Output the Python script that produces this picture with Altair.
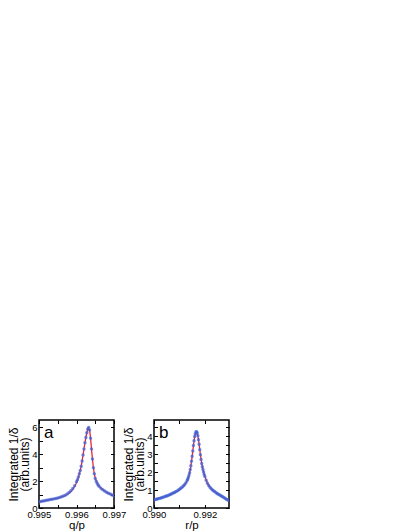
import altair as alt
import pandas as pd

# ---------------- data ----------------
# panel a : q/p  vs integrated 1/delta (blue data points)
qa = [0.99500, 0.99505, 0.99510, 0.99515, 0.99520, 0.99525, 0.99530, 0.99535,
      0.99540, 0.99545, 0.99550, 0.99555, 0.99560, 0.99565, 0.99570, 0.99575,
      0.99580, 0.99585, 0.99590, 0.99595, 0.996000, 0.996025, 0.996050, 0.996075,
      0.996100, 0.996125, 0.996150, 0.996175, 0.996200, 0.996225, 0.996250,
      0.996275, 0.996300, 0.996325, 0.996350, 0.996375, 0.996400, 0.996425,
      0.996450, 0.996475, 0.996500, 0.996525, 0.996550, 0.996575, 0.996600,
      0.99665, 0.99670, 0.99675, 0.99680, 0.99685, 0.99690, 0.99695, 0.99700]
va = [0.47, 0.49, 0.52, 0.54, 0.57, 0.60, 0.63, 0.65,
      0.68, 0.71, 0.74, 0.79, 0.84, 0.89, 0.95, 1.04,
      1.15, 1.28, 1.45, 1.65, 1.95, 2.10, 2.30, 2.55,
      2.80, 3.10, 3.50, 3.95, 4.40, 4.85, 5.25,
      5.60, 5.88, 6.00, 5.80, 5.20, 4.40, 3.65,
      3.00, 2.55, 2.20, 2.00, 1.85, 1.72, 1.62,
      1.47, 1.36, 1.26, 1.18, 1.10, 1.04, 0.97, 0.91]
# panel a fit (red line)
fa = [0.47, 0.49, 0.52, 0.54, 0.57, 0.60, 0.62, 0.65,
      0.68, 0.71, 0.74, 0.78, 0.82, 0.87, 0.93, 1.00,
      1.10, 1.22, 1.38, 1.60, 1.88, 2.06, 2.27, 2.52,
      2.80, 3.12, 3.50, 3.95, 4.40, 4.85, 5.25,
      5.60, 5.88, 5.98, 5.80, 5.20, 4.40, 3.65,
      3.00, 2.55, 2.22, 2.02, 1.87, 1.74, 1.63,
      1.48, 1.37, 1.27, 1.18, 1.10, 1.04, 0.97, 0.91]

# panel b : r/p vs integrated 1/delta
rb = [0.99000, 0.99005, 0.99010, 0.99015, 0.99020, 0.99025, 0.99030, 0.99035,
      0.99040, 0.99045, 0.99050, 0.99055, 0.99060, 0.99065, 0.99070, 0.99075,
      0.99080, 0.99085, 0.99090, 0.99095, 0.99100, 0.99105, 0.99110, 0.99115,
      0.99120, 0.99125, 0.99130, 0.991325, 0.99135, 0.991375, 0.99140, 0.991425,
      0.99145, 0.991475, 0.99150, 0.991525, 0.99155, 0.991575, 0.99160, 0.991625,
      0.99165, 0.991675, 0.99170, 0.991725, 0.99175, 0.991775, 0.99180, 0.991825,
      0.99185, 0.991875, 0.99190, 0.991925, 0.99195, 0.991975, 0.99200, 0.99205,
      0.99210, 0.99215, 0.99220, 0.99225, 0.99230, 0.99235, 0.99240, 0.99245,
      0.99250, 0.99255, 0.99260, 0.99265, 0.99270, 0.99275, 0.99280, 0.99285,
      0.99290, 0.99295]
vb = [0.45, 0.47, 0.49, 0.51, 0.53, 0.55, 0.57, 0.60,
      0.62, 0.65, 0.67, 0.70, 0.73, 0.76, 0.79, 0.83,
      0.86, 0.90, 0.94, 0.99, 1.04, 1.10, 1.16, 1.22,
      1.29, 1.39, 1.52, 1.60, 1.70, 1.82, 1.96, 2.14,
      2.35, 2.60, 2.88, 3.18, 3.48, 3.75, 3.98, 4.14,
      4.23, 4.25, 4.18, 4.02, 3.80, 3.55, 3.25, 2.96,
      2.70, 2.48, 2.30, 2.14, 2.00, 1.87, 1.75, 1.55,
      1.38, 1.25, 1.15, 1.07, 1.00, 0.95, 0.90, 0.84,
      0.79, 0.75, 0.71, 0.67, 0.63, 0.58, 0.53, 0.49,
      0.45, 0.42]
fb = [0.45, 0.47, 0.49, 0.51, 0.53, 0.55, 0.57, 0.59,
      0.62, 0.64, 0.67, 0.69, 0.72, 0.75, 0.78, 0.81,
      0.85, 0.88, 0.92, 0.96, 1.01, 1.06, 1.12, 1.19,
      1.27, 1.37, 1.50, 1.58, 1.68, 1.80, 1.94, 2.12,
      2.33, 2.58, 2.86, 3.16, 3.46, 3.74, 3.97, 4.13,
      4.22, 4.24, 4.18, 4.02, 3.80, 3.55, 3.27, 2.99,
      2.74, 2.52, 2.33, 2.16, 2.02, 1.89, 1.77, 1.57,
      1.40, 1.27, 1.17, 1.09, 1.02, 0.96, 0.90, 0.85,
      0.80, 0.75, 0.71, 0.67, 0.63, 0.58, 0.53, 0.49,
      0.45, 0.42]

# axes / ticks
xdom_a = [0.995, 0.997]
ydom_a = [0, 6.55]
xticks_a = [0.995, 0.9955, 0.996, 0.9965, 0.997]
yticks_a = [0, 1, 2, 3, 4, 5, 6]
xdom_b = [0.990, 0.99295]
ydom_b = [0, 4.9]
xticks_b = [0.990, 0.991, 0.992]
yticks_b = [0, 0.5, 1, 1.5, 2, 2.5, 3, 3.5, 4, 4.5]

ytitle = ["Integrated 1/\u03b4", "(arb.units)"]
labels_a = pd.DataFrame({"x": [0.99526], "y": [5.6], "t": ["a"]})
labels_b = pd.DataFrame({"x": [0.99038], "y": [4.2], "t": ["b"]})

RED = "#e4283f"
BLUE = "#3d62d8"
FONT = "Liberation Sans"
TS = 3.5

AX = dict(grid=False, domain=False, tickSize=TS, offset=-TS, tickColor="black",
          labelFont=FONT, labelFontSize=9.5, labelColor="black",
          titleFont=FONT, titleFontWeight="normal",
          titleColor="black", labelFlush=False)


def panel(xs, vs, fs, xdom, ydom, xt, yt, xexpr, yexpr, xtitle, labdf):
    pts = pd.DataFrame({"x": xs, "y": vs})
    fit = pd.DataFrame({"x": xs, "y": fs})
    xs_ = alt.Scale(domain=xdom, nice=False, zero=False)
    ys_ = alt.Scale(domain=ydom, nice=False, zero=False)
    line = alt.Chart(fit).mark_line(color=RED, strokeWidth=1.3, clip=True).encode(
        x=alt.X("x:Q", scale=xs_, axis=alt.Axis(
            orient="bottom", values=xt, labelExpr=xexpr, title=xtitle,
            labelPadding=1.5, titlePadding=0, titleFontSize=11.5, **AX)),
        y=alt.Y("y:Q", scale=ys_, axis=alt.Axis(
            orient="left", values=yt, labelExpr=yexpr, title=ytitle,
            labelPadding=2, titlePadding=0, titleFontSize=12,
            titleLineHeight=11, **AX)),
    )
    dots = alt.Chart(pts).mark_circle(color=BLUE, size=12, opacity=0.72, clip=True).encode(
        x=alt.X("x:Q", scale=xs_, axis=alt.Axis(
            orient="top", values=xt, labels=False, title=None, **AX)),
        y=alt.Y("y:Q", scale=ys_, axis=alt.Axis(
            orient="right", values=yt, labels=False, title=None, **AX)),
    )
    txt = alt.Chart(labdf).mark_text(font=FONT, fontSize=17, color="black",
                                     align="center", baseline="middle").encode(
        x=alt.X("x:Q", scale=xs_, axis=None),
        y=alt.Y("y:Q", scale=ys_, axis=None),
        text="t:N",
    )
    return (alt.layer(line, dots, txt)
            .resolve_axis(x="independent", y="independent")
            .properties(width=75, height=88))


pa = panel(qa, va, fa, xdom_a, ydom_a, xticks_a, yticks_a,
           "abs(datum.value*1000 - round(datum.value*1000)) < 1e-6 ? format(datum.value, '.3f') : ''",
           "datum.value % 2 == 0 ? format(datum.value, 'd') : ''",
           "q/p", labels_a)
pb = panel(rb, vb, fb, xdom_b, ydom_b, xticks_b, yticks_b,
           "abs(datum.value*500 - round(datum.value*500)) < 1e-6 ? format(datum.value, '.3f') : ''",
           "datum.value % 1 == 0 ? format(datum.value, 'd') : ''",
           "r/p", labels_b)

chart = (alt.hconcat(pa, pb, spacing=40, bounds="flush")
         .properties(padding={"left": -2, "top": 410, "right": 0, "bottom": 0},
                     background="white")
         .configure_view(stroke="black", strokeWidth=1.5))

chart.save("out.html", embed_options={"renderer": "svg", "actions": False})
